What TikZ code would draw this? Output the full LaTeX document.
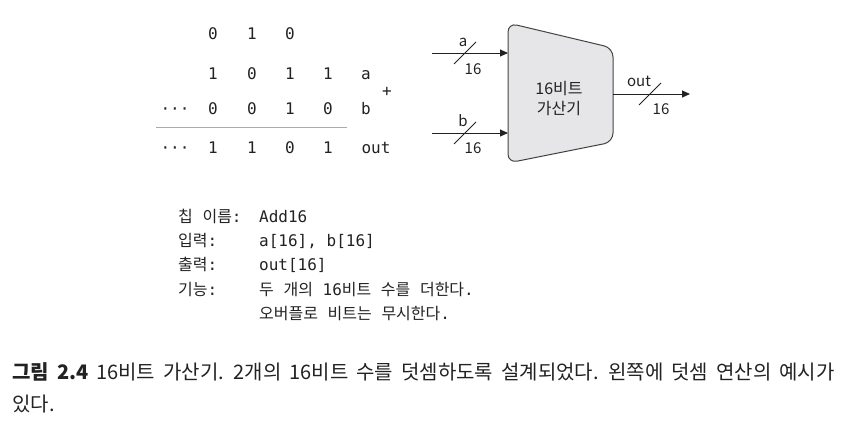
\documentclass[tikz,border=0pt]{standalone}
\usepackage{fontspec}
\setmainfont{Noto Sans CJK KR}
\newfontfamily\krfont{Noto Sans CJK KR}
\newfontfamily\monofont{DejaVu Sans Mono}
\usetikzlibrary{arrows.meta}
\newcommand\K[1]{{\krfont #1}}
\newcommand\capfont{\krfont\fontsize{20}{22}\selectfont\spaceskip=8pt\relax}
\definecolor{inkc}{HTML}{222222}
\definecolor{blockfill}{HTML}{E6E6E8}
\definecolor{blockline}{HTML}{444444}
\definecolor{rulec}{HTML}{AAAAAA}
\tikzset{
  digit/.style={inner sep=0pt, anchor=base, font=\monofont\fontsize{16}{18}\selectfont, text=inkc},
  lbl/.style={inner sep=0pt, anchor=base, font=\krfont\fontsize{15}{18}\selectfont, text=inkc},
  blocktext/.style={inner sep=0pt, anchor=base, font=\krfont\fontsize{16}{18}\selectfont, text=inkc},
  tbl/.style={inner sep=0pt, anchor=base west, font=\monofont\fontsize{16}{18}\selectfont, text=inkc},
  captext/.style={inner sep=0pt, anchor=base west, font=\capfont, text=inkc},
  wire/.style={draw=inkc, line width=1pt, -{Triangle[length=8pt,width=7pt]}},
  bus/.style={draw=inkc, line width=0.8pt},
}
\begin{document}
\begin{tikzpicture}[x=1pt,y=-1pt]
\useasboundingbox (0,0) rectangle (852,426);
% ---- binary addition example
\foreach \d/\x [count=\i] in {0/213,1/252,0/290}
  \node[digit] (c\i) at (\x,39) {\d};
\foreach \d/\x [count=\i] in {1/213,0/252,1/290,1/328}
  \node[digit] (a\i) at (\x,79) {\d};
\foreach \d/\x [count=\i] in {0/213,0/252,1/290,0/328}
  \node[digit] (b\i) at (\x,114) {\d};
\foreach \d/\x [count=\i] in {1/213,1/252,0/290,1/328}
  \node[digit] (o\i) at (\x,153) {\d};
\node[digit] (bdots) at (175,114) {···};
\node[digit] (odots) at (175,153) {···};
\node[digit] (alab) at (366,79) {a};
\node[digit] (blab) at (366,114) {b};
\node[digit] (olab) at (376,153) {out};
\node[digit] (plus) at (387,96) {+};
\coordinate (rl) at (156,127);
\coordinate (rr) at (347,127);
\draw[rulec, line width=1pt] (rl) -- (rr);
% ---- adder block
\draw[blockline, fill=blockfill, line width=1pt, rounded corners=9pt]
  (508,23) -- (613,48) -- (613,142) -- (508,163) -- cycle;
\node[blocktext] (t1) at (559,94) {16비트};
\node[blocktext] (t2) at (559,114) {가산기};
\coordinate (ain) at (508,53);
\coordinate (a0) at (432,53);
\coordinate (bin) at (508,133);
\coordinate (b0) at (432,133);
\coordinate (oout) at (613,94);
\coordinate (o1) at (690,94);
\draw[wire] (a0) -- (ain);
\draw[wire] (b0) -- (bin);
\draw[wire] (oout) -- (o1);
\coordinate (as) at (465,53);
\coordinate (bs) at (465,133);
\coordinate (os) at (650,94);
\foreach \p in {as,bs,os}
  \draw[bus] ([shift={(-11,11)}]\p) -- ([shift={(11,-11)}]\p);
\node[lbl] (la) at (463,46) {a};
\node[lbl] (l16a) at (473,74) {16};
\node[lbl] (lb) at (463,126) {b};
\node[lbl] (l16b) at (473,153) {16};
\node[lbl] (lo) at (639,86) {out};
\node[lbl] (l16o) at (661,114) {16};
% ---- chip spec table
\node[tbl] (r1a) at (178,222) {\K{칩} \K{이름}:};
\node[tbl] (r1b) at (259,222) {Add16};
\node[tbl] (r2a) at (178,246) {\K{입력}:};
\node[tbl] (r2b) at (259,246) {a[16], b[16]};
\node[tbl] (r3a) at (178,270) {\K{출력}:};
\node[tbl] (r3b) at (259,270) {out[16]};
\node[tbl] (r4a) at (178,295) {\K{기능}:};
\node[tbl] (r4b) at (259,295) {\K{두} \K{개의} 16\K{비트} \K{수를} \K{더한다}.};
\node[tbl] (r5b) at (259,319) {\K{오버플로} \K{비트는} \K{무시한다}.};
% ---- caption
\node[captext] (cap1) at (12,379) {\textbf{그림 2.4} 16비트 가산기. 2개의 16비트 수를 덧셈하도록 설계되었다. 왼쪽에 덧셈 연산의 예시가};
\node[captext] (cap2) at (12,411) {있다.};
\end{tikzpicture}
\end{document}
